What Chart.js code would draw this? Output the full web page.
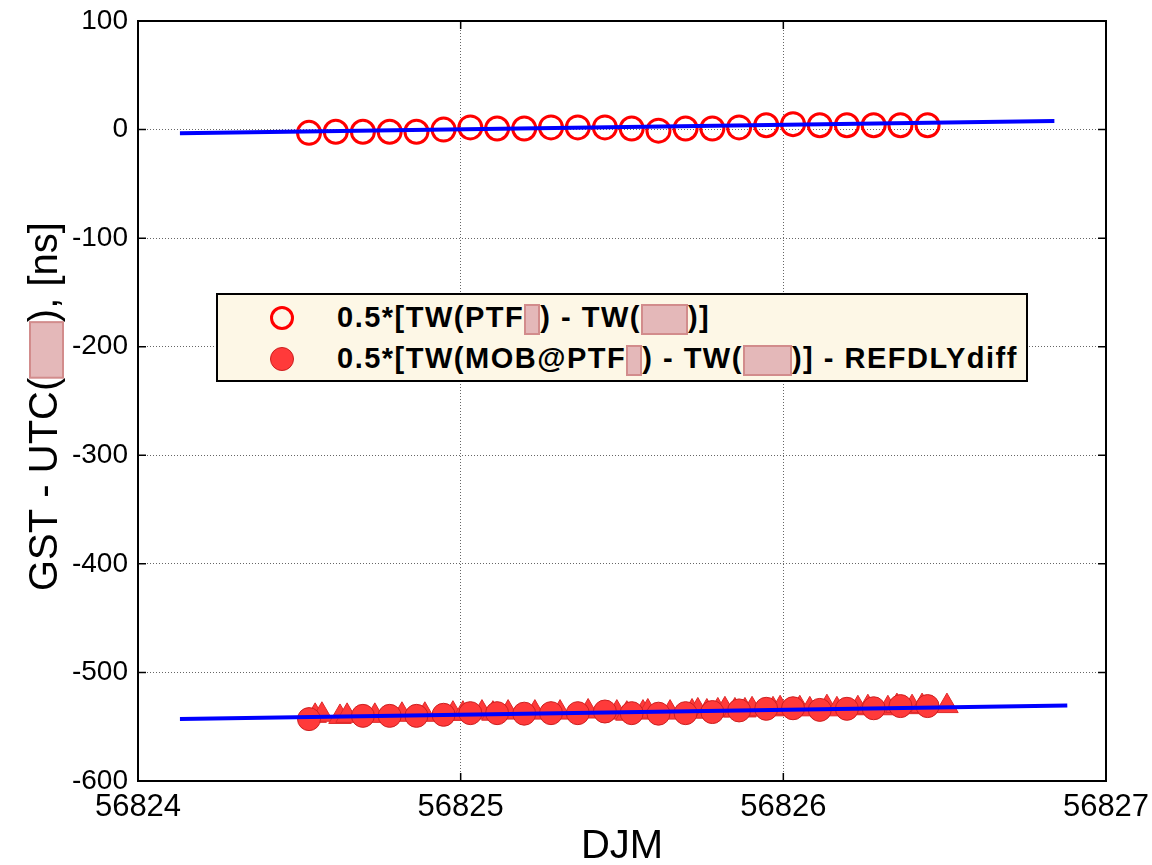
<!DOCTYPE html>
<html>
<head>
<meta charset="utf-8">
<title>GST - UTC vs DJM</title>
<script src="https://cdn.jsdelivr.net/npm/chart.js@4.4.1/dist/chart.umd.min.js"></script>
<style>
    html, body { margin: 0; padding: 0; background: #fff; }
    #wrap   { position: relative; width: 1152px; height: 865px; overflow: hidden; }
    #legend {
        position: absolute; left: 216px; top: 293px; width: 812px; height: 89px;
        box-sizing: border-box; background: #fdf7e6; border: 2px solid #000;
        font: bold 29px 'Liberation Sans', Arial, sans-serif; letter-spacing: 1.5px; color: #000;
    }
    .row  { position: absolute; left: 0; height: 34px; display: flex; align-items: center; white-space: pre; }
    .mk   { position: absolute; width: 24px; height: 24px; border-radius: 50%; box-sizing: border-box; }
    .open { border: 3px solid #ff0000; background: transparent; }
    .full { border: 1px solid #cc1f1f; background: #ff3a3a; }
    .txt  { position: absolute; left: 119px; }
    .red  {
        display: inline-block; height: 31px; vertical-align: middle; box-sizing: border-box;
        background: #e4b8b9; border: 2px solid #d28c8c; letter-spacing: 0;
    }
</style>
</head>
<body>
<div id="wrap">
    <canvas id="chart" width="1152" height="865"></canvas>
    <div id="legend">
        <div class="row" style="top:6px;width:100%">
            <span class="mk open" style="left:52px"></span>
            <span class="txt">0.5*[TW(PTF<span class="red" style="width:16px"></span>) - TW(<span class="red" style="width:47px"></span>)]</span>
        </div>
        <div class="row" style="top:47px;width:100%">
            <span class="mk full" style="left:52px"></span>
            <span class="txt">0.5*[TW(MOB@PTF<span class="red" style="width:16px"></span>) - TW(<span class="red" style="width:49px"></span>)] - REFDLYdiff</span>
        </div>
    </div>
</div>
<script>
// ─── DATA ────────────────────────────────────────────────────────────────────
// open circles: 0.5*[TW(PTF) - TW()]
const djmPTF = [56824.530, 56824.613, 56824.697, 56824.780, 56824.863, 56824.947,
                56825.030, 56825.113, 56825.197, 56825.280, 56825.363, 56825.447,
                56825.530, 56825.613, 56825.697, 56825.780, 56825.863, 56825.947,
                56826.030, 56826.113, 56826.197, 56826.280, 56826.363, 56826.447];
const twPTF  = [-3, -2, -2, -2, -2, 0,
                 2,  1,  1,  2,  2, 2,
                 1, -1,  1,  1,  2, 4,
                 5,  4,  4,  4,  4, 4];

// filled circles: 0.5*[TW(MOB@PTF) - TW()] - REFDLYdiff
const djmMOB = [56824.530, 56824.697, 56824.780, 56824.863, 56824.947,
                56825.030, 56825.113, 56825.197, 56825.280, 56825.363, 56825.447,
                56825.530, 56825.613, 56825.697, 56825.780, 56825.863, 56825.947,
                56826.030, 56826.113, 56826.197, 56826.280, 56826.363, 56826.447];
const twMOB  = [-543, -540, -540, -540, -539,
                -537.5, -537.5, -538, -537.5, -537.5, -536,
                -537.5, -538, -537.5, -536.5, -535, -533.5,
                -533, -534.5, -533.5, -533, -531, -531];

// filled triangles (dense raw MOB points, no legend entry)
const djmRaw = [56824.549, 56824.570, 56824.626, 56824.648, 56824.734, 56824.818,
                56824.889, 56824.976, 56825.007, 56825.066, 56825.100, 56825.147,
                56825.230, 56825.308, 56825.395, 56825.484, 56825.515, 56825.565,
                56825.580, 56825.649, 56825.717, 56825.735, 56825.763, 56825.797,
                56825.819, 56825.850, 56825.881, 56825.903, 56825.968, 56825.990,
                56826.051, 56826.082, 56826.135, 56826.166, 56826.231, 56826.262,
                56826.324, 56826.352, 56826.399, 56826.430, 56826.507];
const twRaw  = [-540, -539, -541, -540, -540, -539,
                -539, -538, -538, -537, -538, -537,
                -537, -537, -536, -537, -538, -537,
                -536, -537, -536, -535, -536, -535,
                -534, -535, -535, -534, -534, -533,
                -533, -534, -532, -534, -533, -532,
                -533, -531, -532, -531, -531];

// linear fits (blue)
const fitTopX = [56824.13, 56826.84];
const fitTopY = [-3.5, 8];
const fitBotX = [56824.13, 56826.88];
const fitBotY = [-543, -530.5];

const xTicks = [56824, 56825, 56826, 56827];
const yTicks = [-600, -500, -400, -300, -200, -100, 0, 100];

const SANS = "'Liberation Sans', Arial, sans-serif";
const YTITLE_PRE = 'GST - UTC(';
const YTITLE_GAP = '     ';
const YTITLE     = YTITLE_PRE + YTITLE_GAP + '), [ns] ';

const pts = (xs, ys) => xs.map((x, i) => ({ x: x, y: ys[i] }));

// ─── FRAME, INNER TICKS, TITLE REDACTION ─────────────────────────────────────
const framePlugin = {
    id: 'frame',
    afterDraw(chart) {
        const { ctx, chartArea: a, scales: { x, y } } = chart;
        ctx.save();
        ctx.strokeStyle = '#000';
        ctx.lineWidth = 1.5;
        ctx.beginPath();
        xTicks.forEach(v => {
            const px = x.getPixelForValue(v);
            ctx.moveTo(px, a.bottom); ctx.lineTo(px, a.bottom - 8);
            ctx.moveTo(px, a.top);    ctx.lineTo(px, a.top + 8);
        });
        yTicks.forEach(v => {
            const py = y.getPixelForValue(v);
            ctx.moveTo(a.left, py);  ctx.lineTo(a.left + 8, py);
            ctx.moveTo(a.right, py); ctx.lineTo(a.right - 8, py);
        });
        ctx.stroke();
        ctx.lineWidth = 2;
        ctx.strokeRect(a.left, a.top, a.right - a.left, a.bottom - a.top);

        // pink box over the hidden part of the y title
        ctx.font = '40px ' + SANS;
        const W  = ctx.measureText(YTITLE).width;
        const w1 = ctx.measureText(YTITLE_PRE).width;
        const wg = ctx.measureText(YTITLE_GAP).width;
        const cy = (y.top + y.bottom) / 2;
        const start = cy + W / 2;
        ctx.fillStyle = '#e4b8b9';
        ctx.strokeStyle = '#d28c8c';
        ctx.lineWidth = 2;
        ctx.fillRect(30, start - w1 - wg, 33, wg);
        ctx.strokeRect(30, start - w1 - wg, 33, wg);
        ctx.restore();
    }
};

// ─── CHART ───────────────────────────────────────────────────────────────────
new Chart(document.getElementById('chart'), {
    type: 'scatter',
    data: {
        datasets: [
            {
                data: pts(fitTopX, fitTopY), showLine: true,
                borderColor: '#0000ff', borderWidth: 4, pointRadius: 0
            },
            {
                data: pts(fitBotX, fitBotY), showLine: true,
                borderColor: '#0000ff', borderWidth: 4, pointRadius: 0
            },
            {
                data: pts(djmPTF, twPTF),
                pointStyle: 'circle', pointRadius: 11.5,
                borderColor: '#ff0000', borderWidth: 3, backgroundColor: 'rgba(0,0,0,0)'
            },
            {
                data: pts(djmMOB, twMOB),
                pointStyle: 'circle', pointRadius: 11.5,
                borderColor: '#cc1f1f', borderWidth: 1, backgroundColor: '#ff3a3a'
            },
            {
                data: pts(djmRaw, twRaw),
                pointStyle: 'triangle', pointRadius: 13,
                borderColor: '#dd2a2a', borderWidth: 1, backgroundColor: '#ff3a3a'
            }
        ]
    },
    options: {
        responsive: false,
        animation: false,
        devicePixelRatio: 1,
        layout: { padding: { left: 0, top: 21, right: 46, bottom: 0 } },
        plugins: { legend: { display: false }, tooltip: { enabled: false } },
        scales: {
            x: {
                type: 'linear', min: 56824, max: 56827,
                afterBuildTicks: s => { s.ticks = xTicks.map(v => ({ value: v })); },
                afterFit: s => { s.height = 84; s.paddingLeft = 0; s.paddingRight = 0; },
                grid: { color: 'rgba(0,0,0,0.6)', lineWidth: 1, drawTicks: false },
                border: { display: false, dash: [1, 2] },
                ticks: {
                    color: '#000', padding: 8, maxRotation: 0,
                    font: { family: SANS, size: 31 },
                    callback: v => String(v)
                },
                title: {
                    display: true, text: 'DJM', color: '#000',
                    font: { family: SANS, size: 40, lineHeight: 1 },
                    padding: { top: 0, bottom: -2 }
                }
            },
            y: {
                min: -600, max: 100,
                afterBuildTicks: s => { s.ticks = yTicks.map(v => ({ value: v })); },
                afterFit: s => { s.width = 138; s.paddingTop = 0; s.paddingBottom = 0; },
                grid: { color: 'rgba(0,0,0,0.6)', lineWidth: 1, drawTicks: false },
                border: { display: false, dash: [1, 2] },
                ticks: {
                    color: '#000', padding: 10,
                    font: { family: SANS, size: 28 }
                },
                title: {
                    display: true, text: YTITLE, color: '#000',
                    font: { family: SANS, size: 40, lineHeight: 1 },
                    padding: { top: 26, bottom: 0 }
                }
            }
        }
    },
    plugins: [framePlugin]
});
</script>
</body>
</html>
